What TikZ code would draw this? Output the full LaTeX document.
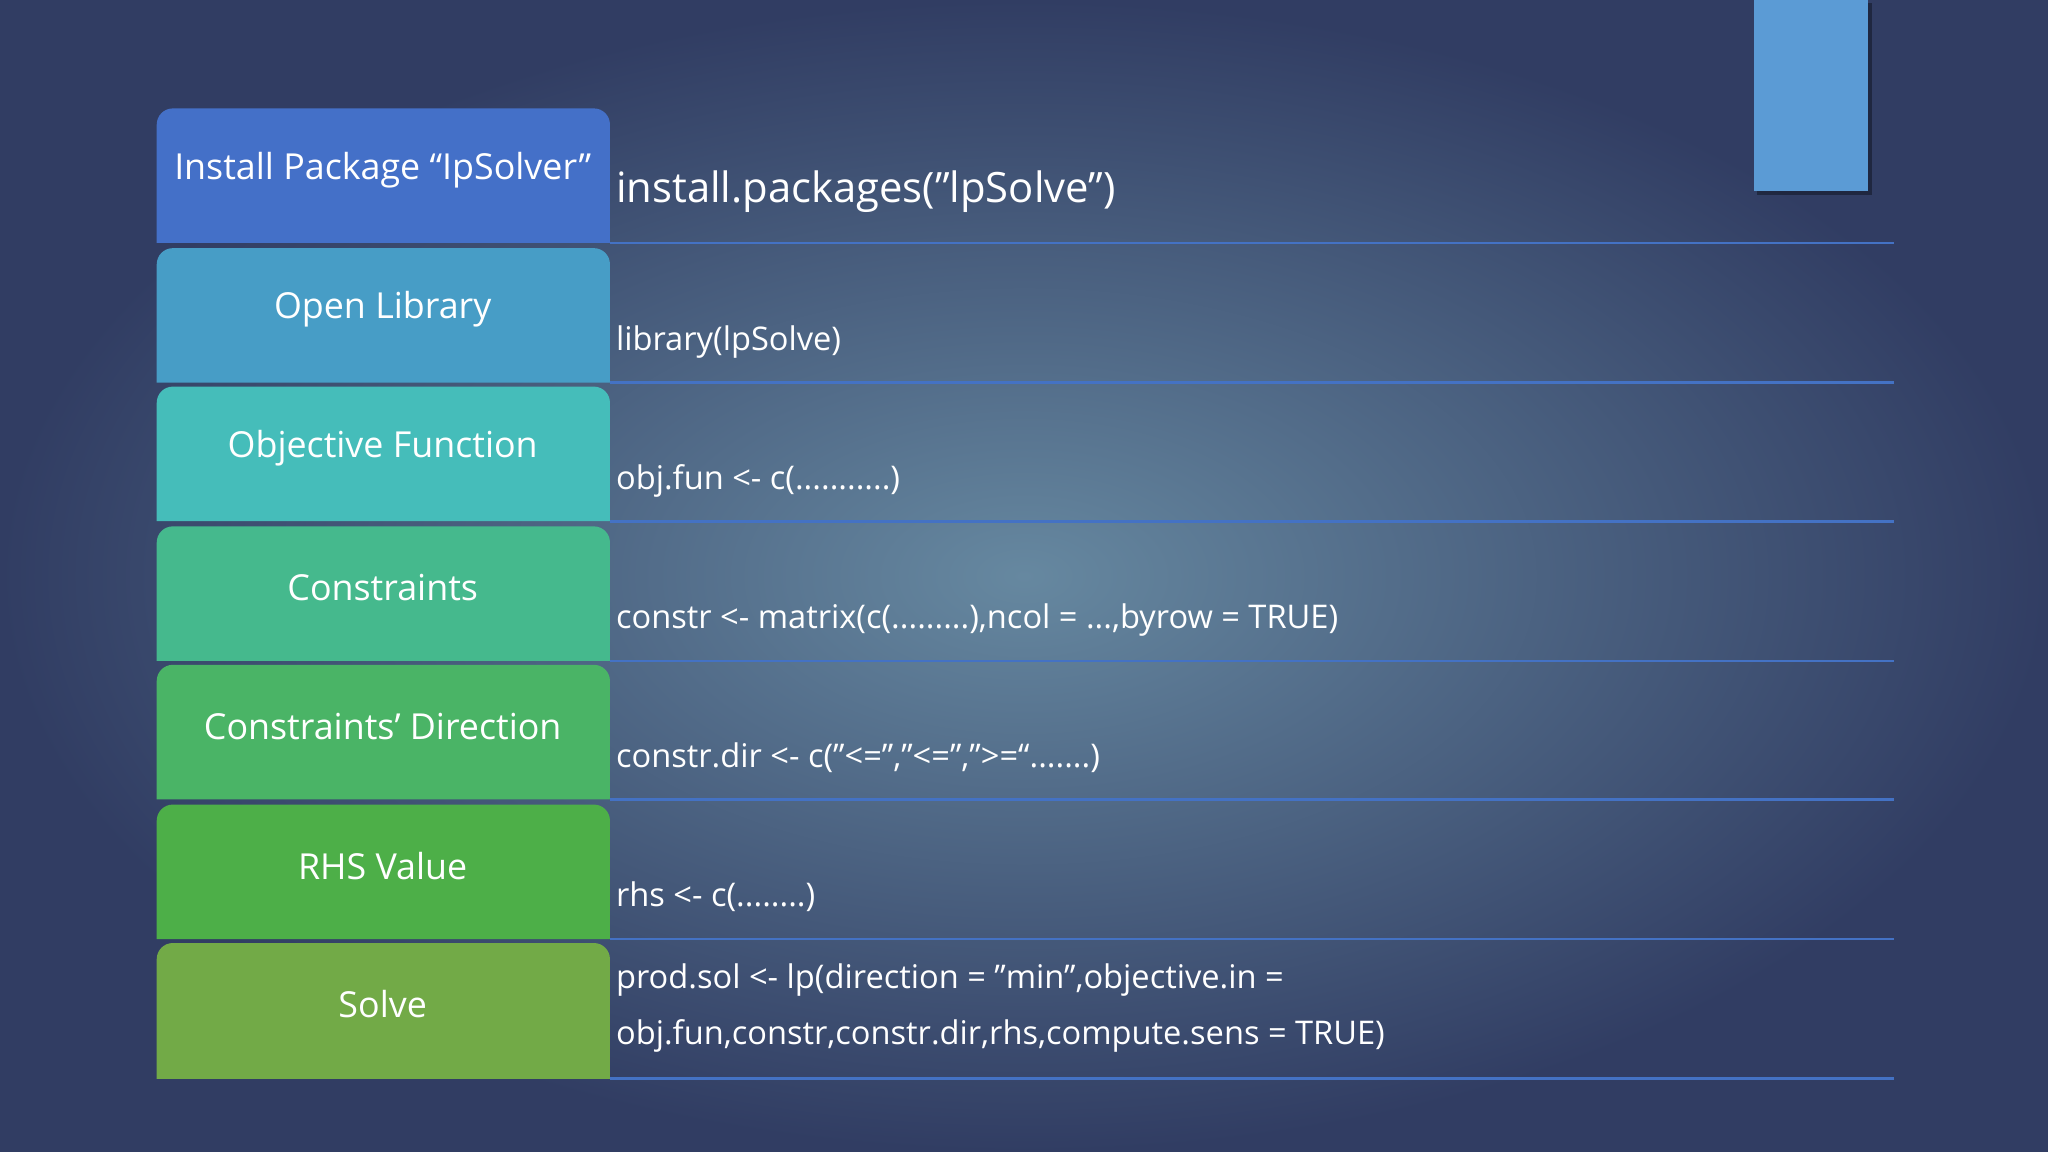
\documentclass[tikz,border=0pt]{standalone}
\usepackage{fontspec}
\defaultfontfeatures{}
\setmainfont{Open Sans}
\newcommand\dq{\char34\relax}
\definecolor{bgin}{HTML}{6688A0}
\definecolor{bgout}{HTML}{313D63}
\definecolor{ln}{HTML}{4472C4}
\definecolor{cA}{HTML}{4470C8}
\definecolor{cB}{HTML}{479DC6}
\definecolor{cC}{HTML}{45BDBA}
\definecolor{cD}{HTML}{45B98D}
\definecolor{cE}{HTML}{4AB466}
\definecolor{cF}{HTML}{4DAF48}
\definecolor{cG}{HTML}{72AA47}
\definecolor{rect}{HTML}{5B9BD5}
\begin{document}
\begin{tikzpicture}[x=0.01cm,y=-0.01cm,
  lbl/.style={text=white,font=\fontsize{7.8pt}{10pt}\selectfont,anchor=center},
  code/.style={text=white,font=\fontsize{7.1pt}{9pt}\selectfont,anchor=base west,inner sep=0},
  rule/.style={draw=ln,line width=0.6pt}]
\shade[inner color=bgin,outer color=bgout] (0,0) rectangle (1568,882);
\useasboundingbox (0,0) rectangle (1568,882);
\fill[black,opacity=0.35] (1345,2) rectangle (1433,149);
\fill[rect] (1343,0) rectangle (1430,146);
\foreach \t/\b/\c/\txt/\n in {83/186/cA/{Install Package “IpSolver”}/a,190/293/cB/{Open Library}/b,296/399/cC/{Objective Function}/c,403/506/cD/{Constraints}/d,509/612/cE/{Constraints’ Direction}/e,616/719/cF/{RHS Value}/f,722/826/cG/{Solve}/g}{
  \fill[\c] (120,\b) {[rounded corners=3.5pt] -- (120,\t) -- (467,\t)} -- (467,\b) -- cycle;
  \node[lbl] (\n) at (293,\t+47) {\txt};
  \draw[rule] (467,\b) -- (1450,\b);
}
\node[code,font=\fontsize{9.1pt}{11pt}\selectfont] (ca) at (471,155) {install.packages(\dq lpSolve\dq)};
\node[code] (cb) at (471,268) {library(lpSolve)};
\node[code] (cc) at (471,375) {obj.fun <- c(...........)};
\node[code] (cd) at (471,481) {constr <- matrix(c(.........),ncol = ...,byrow = TRUE)};
\node[code] (ce) at (471,588) {constr.dir <- c(\dq<=\dq,\dq<=\dq,\dq>=“.......)};
\node[code] (cf) at (471,694) {rhs <- c(........)};
\node[code] (cg) at (471,757) {prod.sol <- lp(direction = \dq min\dq,objective.in =};
\node[code] (ch) at (471,800) {obj.fun,constr,constr.dir,rhs,compute.sens = TRUE)};
\end{tikzpicture}
\end{document}
